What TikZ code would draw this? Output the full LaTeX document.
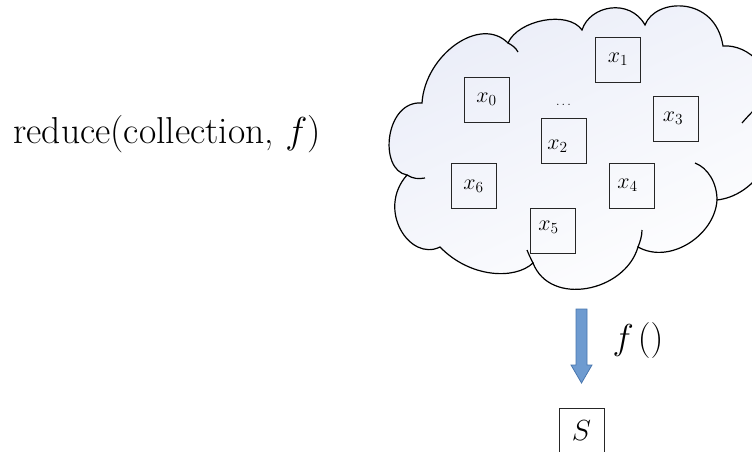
\RequirePackage{fix-cm}
\documentclass[tikz,border=0pt]{standalone}
\usepackage{xcolor}
\definecolor{cloudtop}{RGB}{234,237,248}
\definecolor{arrowfill}{RGB}{110,155,208}
\definecolor{arrowedge}{RGB}{72,118,174}
\begin{document}
\begin{tikzpicture}[x=1pt,y=-1pt,
  item/.style={draw=black!85, line width=0.9pt, minimum width=45pt,
    minimum height=45pt, inner sep=0pt},
  sub/.style={font=\fontsize{22}{26}\selectfont},
  cloudline/.style={draw=black, line width=1.2pt}]
\clip (0,0) rectangle (752,452);

% cloud outline, bump by bump
\draw[cloudline, top color=cloudtop, bottom color=white, shading angle=25]
  (422,103) .. controls (425,55) and (480,15) .. (508,43)
  .. controls (518,20) and (568,10) .. (582,30)
  .. controls (590,5) and (630,-2) .. (645,25)
  .. controls (655,-2) and (715,-5) .. (723,46)
  .. controls (748,44) and (778,70) .. (768,108)
  .. controls (790,135) and (762,195) .. (717,200)
  .. controls (715,235) and (670,265) .. (638,247)
  .. controls (625,292) and (550,307) .. (533,263)
  .. controls (515,280) and (470,278) .. (440,247)
  .. controls (410,262) and (376,210) .. (407,175)
  .. controls (378,170) and (385,100) .. (422,103) -- cycle;

% inner arcs of the cloud
\draw[cloudline] (508,43) .. controls (512,45) and (516,48) .. (518,52);
\draw[cloudline] (742,123) .. controls (748,116) and (754,110) .. (760,104);
\draw[cloudline] (695,163) .. controls (708,168) and (717,183) .. (717,200);
\draw[cloudline] (642,230) .. controls (642,236) and (640,242) .. (638,247);
\draw[cloudline] (527,250) .. controls (529,255) and (531,259) .. (533,263);
\draw[cloudline] (407,175) .. controls (413,179) and (419,179) .. (425,178);

% collection items
\node[item, label={[sub]center:$x_0$}] (x0) at (486.5,99.5) {};
\node[item, label={[sub, xshift=0.5pt]center:$x_1$}] (x1) at (617.5,59.5) {};
\node[item, label={[sub, xshift=-6pt, yshift=-6pt]center:$x_2$}] (x2) at (563.5,140.5) {};
\node[item, label={[sub, xshift=-3pt]center:$x_3$}] (x3) at (676,118.5) {};
\node[item, label={[sub, xshift=-4pt]center:$x_4$}] (x4) at (631.5,185.5) {};
\node[item, label={[sub, xshift=-4pt, yshift=3pt]center:$x_5$}] (x5) at (552.5,230.5) {};
\node[item, label={[sub, yshift=-1pt]center:$x_6$}] (x6) at (473.5,185.5) {};
\node[font=\fontsize{13}{16}\selectfont, anchor=base] (dots) at (563.5,105) {$\dots$};

% call
\node[font=\fontsize{37.5}{44}\selectfont, anchor=base] (call) at (167,143)
  {reduce(collection, $f$)};

% reduction arrow
\draw[fill=arrowfill, draw=arrowedge, line width=0.8pt, line join=miter]
  (576,309) -- (587,309) -- (587,365) -- (592,365) -- (581.5,383)
  -- (571,365) -- (576,365) -- cycle;
\node[font=\fontsize{36}{42}\selectfont, anchor=base] (fn) at (638,349) {$f\mkern2mu()$};

% result
\node[item, font=\fontsize{29}{34}\selectfont] (s) at (581.5,430.5) {$S$};
\end{tikzpicture}
\end{document}
